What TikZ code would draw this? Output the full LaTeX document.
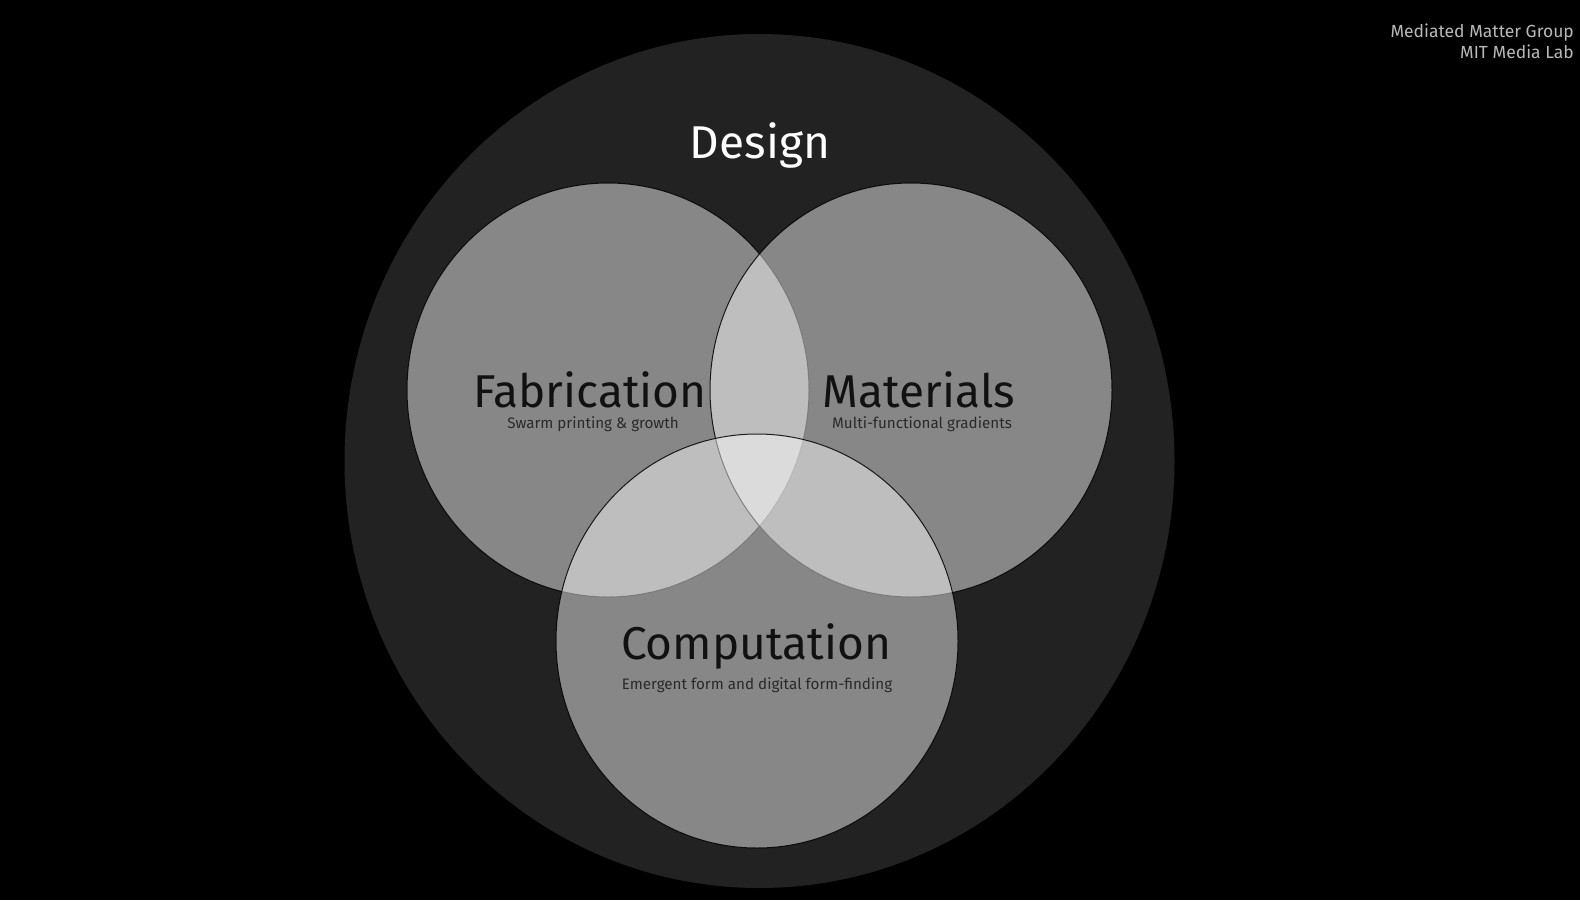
\documentclass[tikz,border=0pt]{standalone}
\usepackage{fontspec}
\setmainfont{Fira Sans}
\newfontfamily\dinfont{Fira Sans}
\definecolor{bgblack}{HTML}{000000}
\definecolor{designbg}{HTML}{222222}
\definecolor{labelcol}{HTML}{111111}
\definecolor{subcol}{HTML}{2A2A2A}
\definecolor{creditcol}{HTML}{B8B8B8}
\tikzset{
  venn/.style={fill=white, fill opacity=0.46, draw=black, draw opacity=0.85, line width=1pt},
  biglabel/.style={anchor=base, text=labelcol, inner sep=0pt, font=\dinfont\fontsize{46}{46}\selectfont},
  sublabel/.style={anchor=base, text=subcol, inner sep=0pt, font=\dinfont\fontsize{15.2}{15.2}\selectfont},
  credit/.style={anchor=base east, text=creditcol, inner sep=0pt, font=\dinfont\fontsize{17.5}{17.5}\selectfont},
}
\begin{document}
\begin{tikzpicture}[x=1pt,y=-1pt]
\fill[bgblack] (0,0) rectangle (1580,900);
\useasboundingbox (0,0) rectangle (1580,900);
\fill[designbg] (759.5,461) ellipse [x radius=415, y radius=427];
\draw[venn] (608,390) ellipse [x radius=201, y radius=207];
\draw[venn] (911,390) ellipse [x radius=201, y radius=207];
\draw[venn] (757,641) ellipse [x radius=201, y radius=207];
\node[anchor=base, text=white, inner sep=0pt, font=\dinfont\fontsize{46}{46}\selectfont] (design) at (760,158) {Design};
\node[biglabel] (fab) at (590,407) {Fabrication};
\node[sublabel] (fabsub) at (593,428) {Swarm printing \& growth};
\node[biglabel] (mat) at (919,407) {Materials};
\node[sublabel] (matsub) at (922,428) {Multi-functional gradients};
\node[biglabel] (comp) at (756,659) {Computation};
\node[sublabel] (compsub) at (757,689) {Emergent form and digital form-finding};
\node[credit] (mmg) at (1574,37) {Mediated Matter Group};
\node[credit] (mit) at (1574,58) {MIT Media Lab};
\end{tikzpicture}
\end{document}
